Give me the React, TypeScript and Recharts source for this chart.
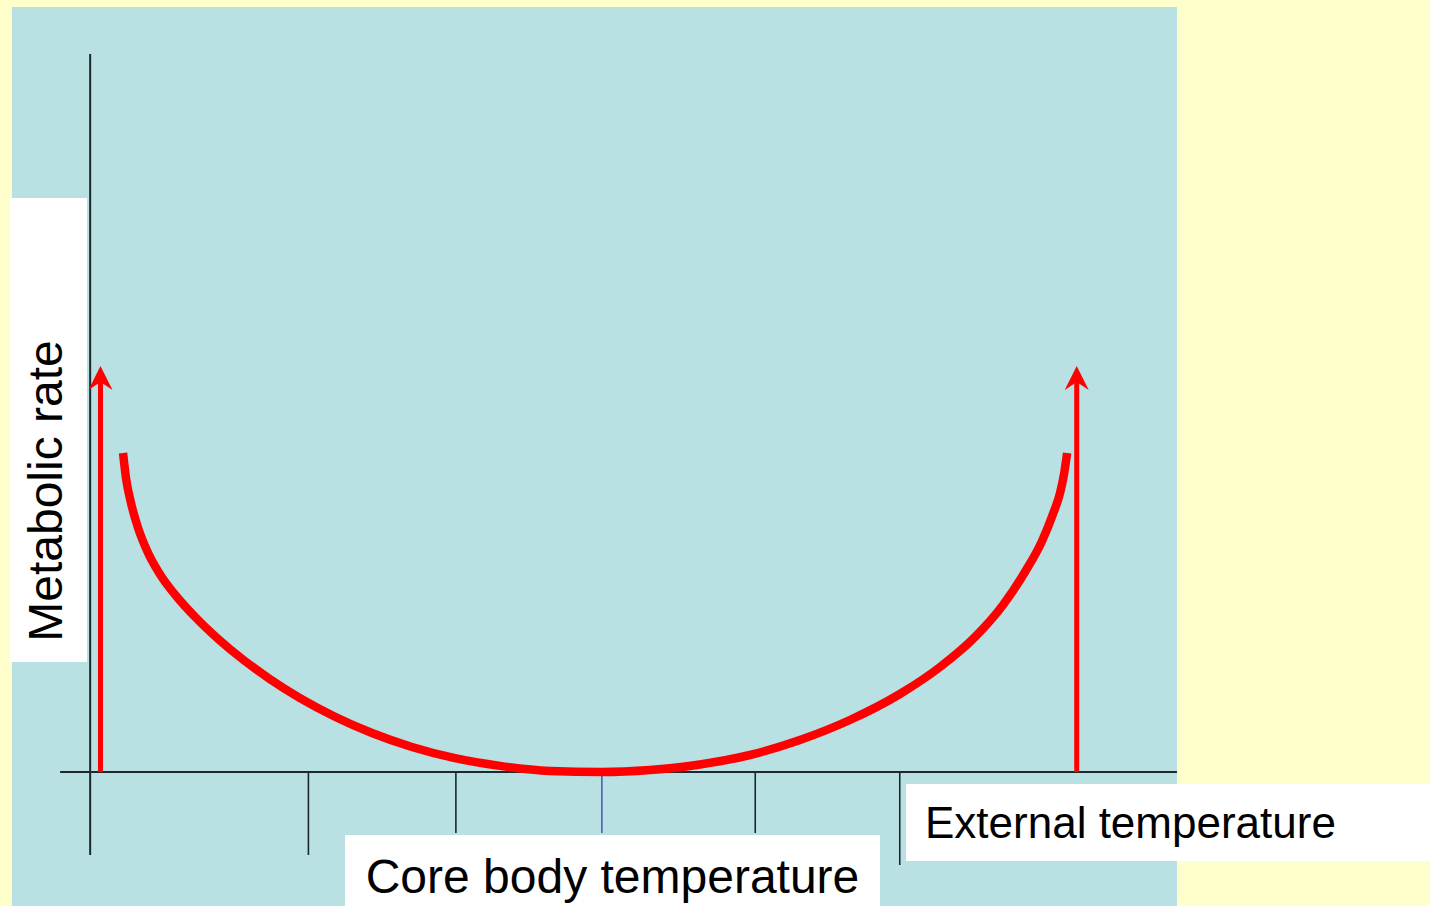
import {
  ComposedChart,
  Line,
  ReferenceArea,
  ReferenceLine,
  XAxis,
  YAxis,
} from "recharts";

// x: temperature (arbitrary units, 0 = core body temperature)
// y: metabolic rate (arbitrary units)
const xDomain: [number, number] = [-4, 3.9];
const yDomain: [number, number] = [-1.34, 7.65];

const curveTemp = [
  -3.247, -3.227, -3.193, -3.145, -3.077, -2.989, -2.881, -2.752, -2.603,
  -2.434, -2.25, -2.047, -1.81, -1.559, -1.288, -0.996, -0.691, -0.352, 0,
  0.327, 0.665, 1.004, 1.343, 1.682, 2.021, 2.293, 2.53, 2.72, 2.869, 2.985,
  3.059, 3.107, 3.134, 3.155,
];
const curveRate = [
  3.19, 2.94, 2.69, 2.44, 2.19, 1.96, 1.75, 1.541, 1.332, 1.125, 0.928, 0.739,
  0.553, 0.39, 0.25, 0.138, 0.061, 0.011, 0, 0.02, 0.075, 0.17, 0.32, 0.52,
  0.78, 1.05, 1.35, 1.67, 2.0, 2.31, 2.58, 2.79, 2.98, 3.19,
];

const arrowTemps = [-3.4, 3.22];
const arrowShaftTop = 3.9; // head notch; the head tip sits a little above

const tickTemps = [-1.99, -0.99, 0, 1.04, 2.02];
const tickBottoms = [-0.83, -0.61, -0.61, -0.61, -0.93];
const tickColors = ["#1c2a2c", "#1c2a2c", "#4a62b0", "#1c2a2c", "#1c2a2c"];

const yAxisTemp = -3.47;
const yAxisRange = [-0.83, 7.18];
const xAxisRange = [-3.674, 3.9];

const curveData = curveTemp.map((t, i) => ({ t, rate: curveRate[i] }));

const ArrowHead = (props: any) => {
  const { cx, cy, index } = props;
  if (index !== 1) return <g key={`a-${index}`} />;
  return (
    <path
      key={`a-${index}`}
      d={`M ${cx} ${cy - 16} L ${cx + 12} ${cy + 8} L ${cx} ${cy} L ${cx - 12} ${cy + 8} Z`}
      fill="#ff0000"
    />
  );
};

const label: React.CSSProperties = {
  position: "absolute",
  background: "#ffffff",
  fontFamily: '"Liberation Sans", Arial, sans-serif',
  color: "#000",
  whiteSpace: "nowrap",
};

export default function App() {
  return (
    <div
      style={{
        position: "absolute",
        left: 0,
        top: 0,
        width: 1430,
        height: 906,
        background: "#ffffcc",
        overflow: "hidden",
      }}
    >
      <ComposedChart
        width={1430}
        height={906}
        margin={{ top: 7, left: 12, right: 253, bottom: 0 }}
      >
        <XAxis
          type="number"
          dataKey="t"
          domain={xDomain}
          allowDataOverflow
          hide
        />
        <YAxis type="number" domain={yDomain} allowDataOverflow hide />
        <ReferenceArea
          x1={xDomain[0]}
          x2={xDomain[1]}
          y1={yDomain[0]}
          y2={yDomain[1]}
          fill="#b9e0e3"
          fillOpacity={1}
          stroke="none"
        />
        <ReferenceLine
          segment={[
            { x: yAxisTemp, y: yAxisRange[0] },
            { x: yAxisTemp, y: yAxisRange[1] },
          ]}
          stroke="#1c2a2c"
          strokeWidth={2}
        />
        <ReferenceLine
          segment={[
            { x: xAxisRange[0], y: 0 },
            { x: xAxisRange[1], y: 0 },
          ]}
          stroke="#1c2a2c"
          strokeWidth={2}
        />
        {tickTemps.map((t, i) => (
          <ReferenceLine
            key={t}
            segment={[
              { x: t, y: 0 },
              { x: t, y: tickBottoms[i] },
            ]}
            stroke={tickColors[i]}
            strokeWidth={1.6}
          />
        ))}
        {arrowTemps.map((t) => (
          <Line
            key={`arrow${t}`}
            data={[
              { t, rate: 0 },
              { t, rate: arrowShaftTop },
            ]}
            dataKey="rate"
            type="linear"
            stroke="#ff0000"
            strokeWidth={5}
            dot={ArrowHead}
            activeDot={false}
            isAnimationActive={false}
          />
        ))}
        <Line
          data={curveData}
          dataKey="rate"
          type="monotone"
          stroke="#ff0000"
          strokeWidth={8.5}
          dot={false}
          activeDot={false}
          isAnimationActive={false}
        />
      </ComposedChart>

      <div style={{ ...label, left: 10, top: 198, width: 77, height: 464 }}>
        <div
          style={{
            position: "absolute",
            left: 36,
            top: 293,
            fontSize: 48,
            lineHeight: 1,
            transform: "translate(-50%, -50%) rotate(-90deg)",
          }}
        >
          Metabolic rate
        </div>
      </div>
      <div
        style={{
          ...label,
          left: 345,
          top: 835,
          width: 535,
          height: 71,
          fontSize: 48,
          lineHeight: "84px",
          textAlign: "center",
        }}
      >
        Core body temperature
      </div>
      <div
        style={{
          ...label,
          left: 906,
          top: 784,
          width: 524,
          height: 77,
          fontSize: 44,
          lineHeight: "77px",
          paddingLeft: 19,
          boxSizing: "border-box",
        }}
      >
        External temperature
      </div>
    </div>
  );
}
